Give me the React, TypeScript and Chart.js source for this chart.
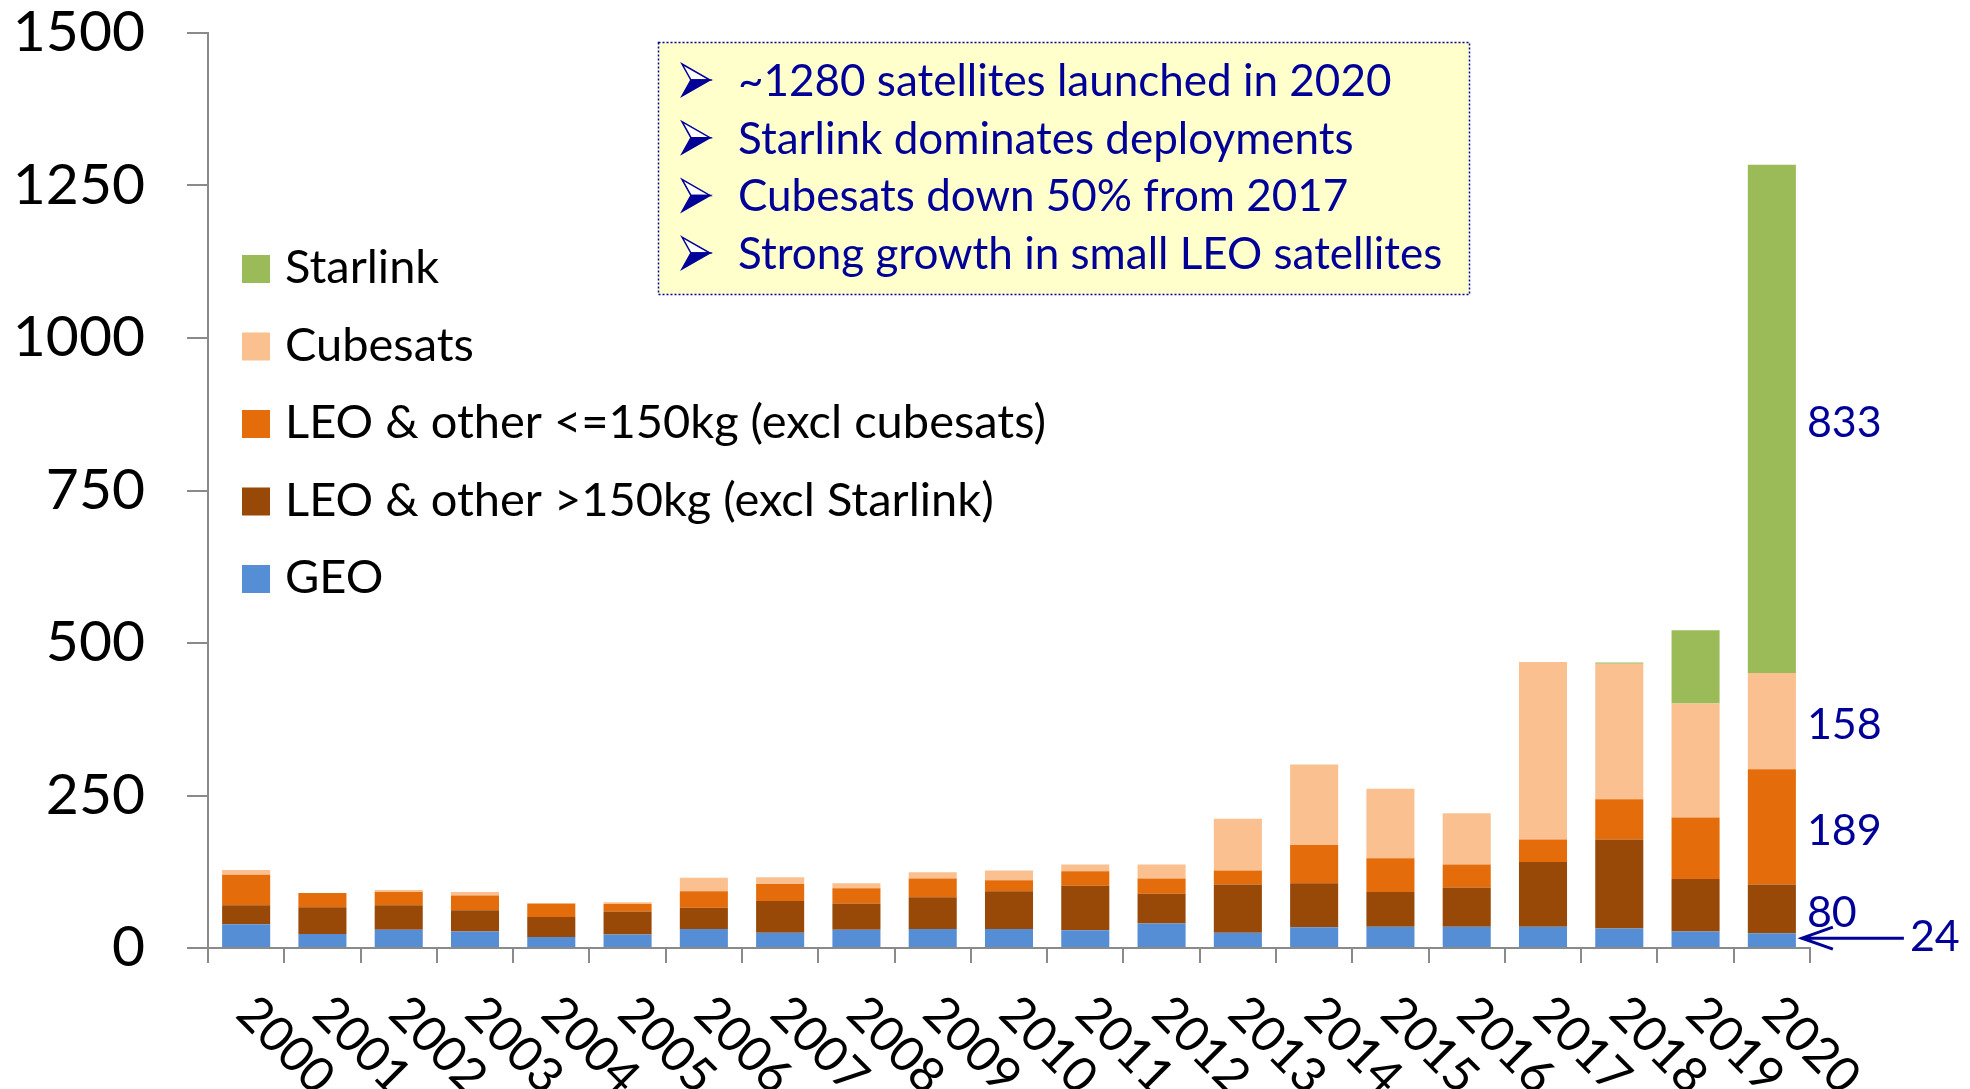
import React, { useEffect, useRef } from "react";
import { Chart, registerables } from "chart.js";

Chart.register(...registerables);

// ---------- data ----------
const years = [
  "2000", "2001", "2002", "2003", "2004", "2005", "2006", "2007", "2008", "2009", "2010",
  "2011", "2012", "2013", "2014", "2015", "2016", "2017", "2018", "2019", "2020",
];
const geo = [39, 23, 30, 27, 18, 22, 31, 25, 30, 31, 31, 29, 40, 25, 34, 35, 35, 35, 32, 27, 24];
const leoLarge = [31, 44, 40, 35, 33, 38, 35, 52, 43, 52, 62, 73, 49, 79, 72, 57, 64, 106, 146, 86, 80];
const leoSmall = [50, 23, 22, 24, 22, 12, 27, 28, 25, 31, 18, 24, 25, 23, 63, 55, 38, 37, 66, 101, 189];
const cubesats = [8, 0, 3, 6, 0, 3, 22, 11, 8, 10, 16, 11, 23, 85, 132, 114, 84, 291, 222, 187, 158];
const starlink = [0, 0, 0, 0, 0, 0, 0, 0, 0, 0, 0, 0, 0, 0, 0, 0, 0, 0, 2, 120, 833];

const seriesLabels = [
  "GEO",
  "LEO & other >150kg (excl Starlink)",
  "LEO & other <=150kg (excl cubesats)",
  "Cubesats",
  "Starlink",
];
const seriesValues = [geo, leoLarge, leoSmall, cubesats, starlink];
const seriesColors = ["#558ED5", "#984807", "#E46C0A", "#FAC090", "#9BBB59"];

const yMin = 0;
const yMax = 1500;
const yStep = 250;

const notes = [
  "~1280 satellites launched in 2020",
  "Starlink dominates deployments",
  "Cubesats down 50% from 2017",
  "Strong growth in small LEO satellites",
];

// ---------- styles ----------
const FONT = "Lato, 'Open Sans', sans-serif";
const NOTE_COLOR = "#000099";
const AXIS_COLOR = "#8A8A8A";

function drawBullet(ctx: CanvasRenderingContext2D, x: number, yTop: number, w: number, h: number) {
  const midY = yTop + h / 2;
  const notchX = x + w * 0.32;
  ctx.beginPath();
  ctx.moveTo(x, yTop);
  ctx.lineTo(x + w, midY);
  ctx.lineTo(notchX, midY);
  ctx.closePath();
  ctx.fillStyle = "#FFFFFF";
  ctx.fill();
  ctx.lineWidth = 1.5;
  ctx.strokeStyle = NOTE_COLOR;
  ctx.stroke();
  ctx.beginPath();
  ctx.moveTo(notchX, midY);
  ctx.lineTo(x + w, midY);
  ctx.lineTo(x, yTop + h);
  ctx.closePath();
  ctx.fillStyle = NOTE_COLOR;
  ctx.fill();
  ctx.stroke();
}

const overlayPlugin = {
  id: "overlay",
  afterDraw(chart: any) {
    const ctx: CanvasRenderingContext2D = chart.ctx;
    const xScale = chart.scales.x;
    const area = chart.chartArea;

    // rotated category labels
    ctx.save();
    ctx.fillStyle = "#000000";
    ctx.font = `49px ${FONT}`;
    ctx.textAlign = "left";
    ctx.textBaseline = "middle";
    years.forEach((lab, i) => {
      const px = xScale.getPixelForValue(i);
      ctx.save();
      ctx.translate(px - 1, area.bottom + 57);
      ctx.rotate(Math.PI / 4);
      ctx.fillText(lab, 0, 0);
      ctx.restore();
    });
    ctx.restore();

    // legend (top series first)
    ctx.save();
    const order = [4, 3, 2, 1, 0];
    order.forEach((di, row) => {
      const base = 283 + row * 77.5;
      ctx.fillStyle = seriesColors[di];
      ctx.fillRect(242, base - 28, 28, 28);
      ctx.fillStyle = "#000000";
      ctx.font = `47px ${FONT}`;
      ctx.textAlign = "left";
      ctx.textBaseline = "alphabetic";
      ctx.fillText(seriesLabels[di], 285, base);
    });
    ctx.restore();

    // note box
    ctx.save();
    const bx = 658, by = 42, bw = 811, bh = 252;
    ctx.fillStyle = "#FFFFCC";
    ctx.fillRect(bx, by, bw, bh);
    ctx.setLineDash([2, 2]);
    ctx.lineWidth = 1.5;
    ctx.strokeStyle = NOTE_COLOR;
    ctx.strokeRect(bx + 0.5, by + 0.5, bw, bh);
    ctx.setLineDash([]);
    notes.forEach((t, i) => {
      const base = 96 + i * 57.7;
      drawBullet(ctx, 682, base - 32, 28, 32);
      ctx.fillStyle = NOTE_COLOR;
      ctx.font = `44px ${FONT}`;
      ctx.textAlign = "left";
      ctx.textBaseline = "alphabetic";
      ctx.fillText(t, 738, base);
    });
    ctx.restore();

    // value labels for the last year
    ctx.save();
    const last = years.length - 1;
    ctx.fillStyle = NOTE_COLOR;
    ctx.strokeStyle = NOTE_COLOR;
    ctx.font = `43px ${FONT}`;
    ctx.textAlign = "left";
    ctx.textBaseline = "alphabetic";
    chart.data.datasets.forEach((ds: any, di: number) => {
      const el = chart.getDatasetMeta(di).data[last];
      if (!el) return;
      const right = el.x + el.width / 2;
      const cy = (el.y + el.base) / 2;
      const v = ds.data[last];
      if (di === 0) {
        const ay = cy - 2;
        const tip = right + 6;
        ctx.lineWidth = 3;
        ctx.beginPath();
        ctx.moveTo(right + 108, ay);
        ctx.lineTo(tip, ay);
        ctx.moveTo(tip + 31, ay - 11);
        ctx.lineTo(tip, ay);
        ctx.lineTo(tip + 31, ay + 11);
        ctx.stroke();
        ctx.fillText(String(v), right + 114, cy + 11);
      } else {
        ctx.fillText(String(v), right + 11, cy + 18);
      }
    });
    ctx.restore();
  },
};

export default function App() {
  const canvasRef = useRef<HTMLCanvasElement | null>(null);

  useEffect(() => {
    document.body.style.margin = "0";
    document.body.style.overflow = "hidden";
    const canvas = canvasRef.current;
    if (!canvas) return;

    const chart = new Chart(canvas, {
      type: "bar",
      data: {
        labels: years,
        datasets: seriesValues.map((vals, i) => ({
          label: seriesLabels[i],
          data: vals,
          backgroundColor: seriesColors[i],
          borderWidth: 0,
          barPercentage: 0.63,
          categoryPercentage: 1,
        })),
      },
      options: {
        animation: false,
        responsive: true,
        maintainAspectRatio: false,
        events: [],
        layout: { padding: { top: 33, right: 160, left: 0, bottom: 0 } },
        plugins: {
          legend: { display: false },
          tooltip: { enabled: false },
          title: { display: false },
        },
        scales: {
          x: {
            stacked: true,
            offset: true,
            grid: {
              offset: true,
              drawOnChartArea: false,
              drawTicks: true,
              tickLength: 15,
              color: AXIS_COLOR,
              lineWidth: 2,
            },
            border: { display: true, color: AXIS_COLOR, width: 2 },
            ticks: { display: false },
            afterFit: (scale: any) => {
              scale.height = 1089 - 948;
              scale.paddingLeft = 0;
              scale.paddingRight = 0;
            },
          },
          y: {
            stacked: true,
            min: yMin,
            max: yMax,
            grid: {
              drawOnChartArea: false,
              drawTicks: true,
              tickLength: 21,
              color: AXIS_COLOR,
              lineWidth: 2,
            },
            border: { display: true, color: AXIS_COLOR, width: 2 },
            ticks: {
              stepSize: yStep,
              color: "#000000",
              padding: 42,
              font: { family: FONT, size: 57, lineHeight: 1 },
              callback: (v: any) => String(v),
            },
            afterFit: (scale: any) => {
              scale.width = 208;
              scale.paddingTop = 0;
              scale.paddingBottom = 0;
            },
          },
        },
      },
      plugins: [overlayPlugin],
    });

    return () => {
      chart.destroy();
    };
  }, []);

  return (
    <div style={{ position: "fixed", left: 0, top: 0, width: 1970, height: 1089, background: "#fff" }}>
      <canvas ref={canvasRef} />
    </div>
  );
}
